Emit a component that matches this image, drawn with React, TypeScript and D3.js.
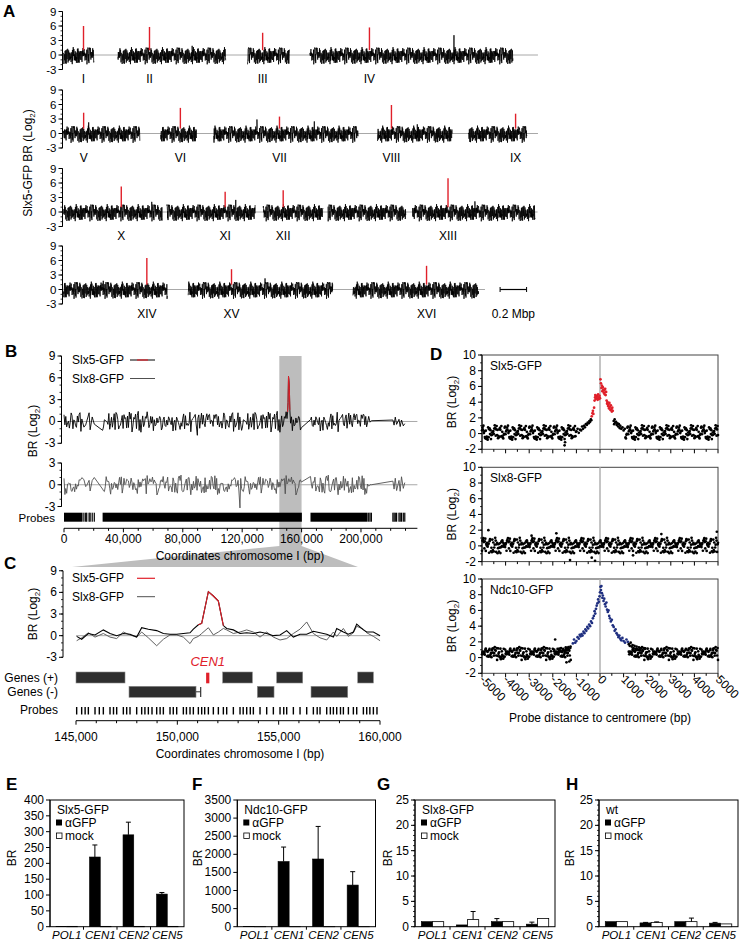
import React from 'react';
import * as d3 from 'd3';

const FONT = "'Liberation Sans', Arial, Helvetica, sans-serif";
const RED = '#e0202a';
const BLUE = '#1f2f80';
const ZERO_GRAY = '#a8a8a8';

// hand-typed log2 fluctuation table (background noise of the arrays)
const NOISE = [0.42,-0.61,0.15,0.88,-0.27,-1.12,0.53,0.07,-0.44,1.21,-0.83,0.31,-0.05,0.66,-1.35,0.24,0.97,-0.38,-0.71,0.12,0.58,-0.94,1.05,-0.19,0.36,-0.52,0.81,-1.02,0.03,0.47,-0.66,1.33,-0.28,-0.87,0.69,0.18,-1.18,0.55,-0.09,0.92,-0.47,0.26,-0.75,1.12,-0.33,0.61,-1.41,0.09,0.77,-0.58,0.34,-0.21,1.02,-0.96,0.45,-0.13,0.73,-1.07,0.21,0.86,-0.42,-0.68,1.18,0.05,-0.89,0.52,-0.31,0.98,-0.56,0.14,-1.25,0.63,0.29,-0.77,1.09,-0.17,0.41,-0.99,0.72,-0.36,0.17,1.27,-0.62,-0.08,0.84,-1.15,0.38,-0.48,0.95,-0.26,0.57,-0.81,0.11,1.15,-0.69,0.27,-0.39,0.79,-1.3,0.49,-0.11,0.67,-0.92,0.33,1.01,-0.54,-0.23,0.89,-0.74,0.19,-1.04,0.61,0.37,-0.45,0.83,-0.15,-1.21,0.51,0.02,0.94,-0.63,0.23,-0.86,1.14,-0.29,0.44,-0.57,0.71,-1.09,0.16,0.99,-0.41,-0.79,0.59,0.08,-0.97,0.46,1.24,-0.35,-0.64,0.76,-0.18,0.31,-1.16,0.87,-0.49,0.13,1.06,-0.72,0.39,-0.25,0.65,-1.38,0.22,0.91,-0.53];

// ---------- Panel A : genome-wide Slx5-GFP ChIP-chip
const CHROMS = ['I','II','III','IV','V','VI','VII','VIII','IX','X','XI','XII','XIII','XIV','XV','XVI'];
const CHROM_LEN_KB = [230,813,317,1532,577,270,1091,563,440,746,667,1078,924,784,1091,948];
const CEN_KB = [151,238,114,449,152,148,497,105,355,436,440,151,268,629,327,556];
const CEN_PEAK = [6.0,5.8,4.6,5.7,4.3,5.3,3.5,5.9,4.1,5.3,4.2,4.5,7.0,6.5,4.2,4.9];
const CHROM_ROW = [0,0,0,0,1,1,1,1,1,2,2,2,2,3,3,3];
const CHROM_START_KB = [0,411,1389,1860,0,734,1133,2370,3057,0,780,1507,2634,0,941,2184];
const ROW_END_KB = [3581,3581,3578,3181];
const A_OTHER_PEAKS = [[3,1087,4.1],[1,560,1.9],[4,190,2.3],[6,327,2.9],[6,760,2.5],[7,300,1.9],[9,666,2.1],[10,520,2.5],[12,471,2.2],[14,580,2.3],[13,300,1.8]];
const A_TICKS = [-3,0,3,6,9];
const SCALE_BAR_KB = [3295, 3495];

// ---------- Panel B : chromosome I
const B_DENSE_KB = [[0,12.5],[26,160.2],[166,204.5]];
const B_SPARSE_KB = [13.4,14.6,15.3,16.9,17.6,19.0,20.4,205.2,206.1,207.0,221.5,222.3,223.1,224.0,225.6,226.4,227.3,228.5,229.5];
const B_SLX5_PEAK = [[150.6,1.3],[150.9,2.6],[151.2,6.2],[151.5,5.6],[151.8,4.4],[152.1,1.6]];
const B_SLX5_FIXED = [[89.8,-1.9],[205.2,0.7],[206.1,-0.1],[207,0.1],[221.5,0.2],[222.3,-0.5],[223.1,0.6],[224.0,-0.4],[225.6,0.3],[226.4,-0.7],[227.3,0.2],[228.5,-0.6],[229.5,-0.3]];
const B_SLX8_FIXED = [[20.4,1.0],[26,-0.6],[118.5,-3.2],[205.2,-0.2],[206.1,0.0],[207,0.0],[221.5,0.5],[222.3,-0.6],[223.1,0.9],[224.0,-0.8],[225.6,0.6],[226.4,-0.9],[227.3,1.1],[228.5,-0.5],[229.5,0.3]];
const B_X_TICKS = [0,40000,80000,120000,160000,200000];

// ---------- Panel C : CEN1 region
const C_POS = [145033,145280,145609,145938,146349,146678,147007,147336,147665,147994,148241,148570,148981,149310,149639,149968,150297,150626,150790,151037,151202,151531,151777,152024,152271,152435,152764,153093,153422,153751,154080,154409,154738,155067,155396,155725,156054,156383,156712,157041,157370,157699,157864,158193,158440,158686,158851,159180,159344,159673,160003];
const C_SLX5 = [-0.1,-0.5,0.3,0.1,0.8,0.3,0.0,0.3,0.2,-0.2,1.1,0.9,0.7,0.3,0.2,0.2,0.3,0.4,0.9,1.5,1.7,6.1,5.5,4.8,1.4,1.0,0.8,0.3,0.4,0.3,0.5,0.3,0.0,0.1,0.7,-0.2,0.2,0.2,0.6,0.4,0.2,-0.2,1.0,0.5,0.2,0.5,1.6,0.8,0.5,0.5,0.0];
const C_SLX8 = [-0.7,-0.3,0.4,-0.2,0.3,-0.2,-0.4,0.5,0.1,-0.2,0.5,-0.3,-1.4,-0.5,0.1,0.1,-0.2,-1.1,-0.4,-0.1,0.3,1.1,0.1,0.5,1.0,0.8,0.3,0.5,0.8,0.5,-0.2,0.5,-0.2,-0.6,-0.4,0.3,0.9,1.9,0.3,-0.3,-0.6,0.5,-0.1,1.0,-0.1,0.4,1.3,0.9,0.4,-0.1,-0.7];
const C_PROBE_EXTRA = [145450,146150,146850,147500,148400,148750,149150,149800,150450,151350,153250,153600,155250,156900,157550,158050,159500,159850];
const C_GENES_PLUS = [[145000,147418],[152238,153702],[154903,156186],[158900,159673]];
const C_GENES_MINUS = [[147616,150922],[153949,154771],[156597,158407]];
const C_SMALL_FEATURE = [150922,151152];
const C_CEN1 = [151420,151580];
const C_X_TICKS = [145000,150000,155000,160000];

// ---------- Panel D : probe distance to centromere
const D_SLX5_RED_X = [-350,-320,-300,-280,-250,-230,-210,-200,-180,-160,-140,-120,-100,-80,-60,-40,-20,0,20,40,60,80,100,120,140,160,180,200,220,240,260,280,300,320,340,360,380,400,420,440,460,480,500,520,540];
const D_SLX5_RED_Y = [2.2,2.6,2.9,2.5,3.3,4.2,4.6,4.9,4.4,4.7,4.5,4.8,4.3,5.0,4.6,4.4,4.8,4.5,6.9,6.4,5.8,6.1,5.4,5.9,5.6,5.2,5.5,5.0,5.7,4.9,5.3,4.2,3.8,4.0,3.5,3.7,3.2,3.9,3.4,3.0,3.6,3.1,2.8,3.3,2.9];
const D_SLX5_BLACK_X = [-1500,-1480,-1000,-950,-900,-850,-800,-760,-720,-680,-640,-600,-560,-520,-480,-450,-420,-390,-370,580,600,620,650,680,710,740,770,800,830,860,900,950,1000,1050];
const D_SLX5_BLACK_Y = [-1.5,-1.1,0.3,0.6,0.1,0.5,0.4,0.9,0.6,1.0,0.8,1.2,1.1,1.4,1.3,1.6,1.5,1.8,1.7,1.6,1.2,1.8,1.4,1.5,1.1,1.3,0.9,1.2,0.7,1.0,0.6,0.8,0.4,0.6];
const D_SLX8_OUT_X = [-4730,-2900,-1850,-1270,-350,-210,1400,2600,4950];
const D_SLX8_OUT_Y = [2.0,1.3,1.6,-1.8,-1.5,-1.9,-1.2,1.5,1.8];
const D_NDC_BLUE_X = [-1150,-1100,-1050,-1000,-950,-900,-860,-820,-780,-740,-700,-660,-620,-580,-540,-500,-460,-420,-380,-340,-300,-260,-230,-200,-170,-140,-110,-80,-50,-20,0,20,40,60,80,100,120,150,180,210,240,270,300,330,360,390,420,460,500,540,580,620,660,700,740,780,820,860,900,950,1000,1060,1120,1180];
const D_NDC_BLUE_Y = [1.8,2.3,1.9,2.1,2.6,2.4,2.9,2.7,3.0,2.8,3.3,3.1,3.6,3.4,3.9,3.7,4.2,4.0,4.6,4.4,5.0,5.3,5.9,5.6,6.2,6.6,6.9,7.4,7.1,7.8,8.3,9.0,8.6,9.1,8.2,7.6,7.9,7.2,7.5,6.8,6.5,7.0,6.1,5.8,6.0,5.3,5.0,4.6,4.8,4.1,3.9,3.4,3.6,3.1,2.9,2.6,2.8,2.4,2.2,2.5,2.1,1.9,2.3,2.0];
const D_NDC_BLACK_X = [-1950,-1900,-1800,-1750,-1700,-1650,-1600,-1550,-1500,-1450,-1420,-1400,-1350,-1300,-1250,1220,1260,1300,1340,1380,1420,1460,1500,1550,1600,1650,1700,1750,1800,1900,2000];
const D_NDC_BLACK_Y = [0.8,2.3,1.1,0.6,0.9,1.2,0.7,1.0,0.8,1.3,-0.6,0.9,1.1,-0.5,1.4,1.7,1.5,1.9,1.4,1.6,1.2,1.5,1.1,1.4,1.0,1.3,0.9,1.2,0.8,1.1,0.7];
const D_X_TICKS = [-5000,-4000,-3000,-2000,-1000,0,1000,2000,3000,4000,5000];
const D_TITLES = ['Slx5-GFP','Slx8-GFP','Ndc10-GFP'];

// ---------- Panels E-H : ChIP-qPCR
const QPCR_CATS = ['POL1','CEN1','CEN2','CEN5'];
const E_GFP = [1,220,290,103]; const E_GFP_ERR = [0,38,40,5];
const E_MOCK = [1,1,1,1]; const E_MOCK_ERR = [0,0,0,0];
const F_GFP = [1,1800,1870,1150]; const F_GFP_ERR = [0,400,900,370];
const F_MOCK = [1,1,1,1]; const F_MOCK_ERR = [0,0,0,0];
const G_GFP = [1.0,0.35,1.0,0.5]; const G_GFP_ERR = [0,0,0.6,0.4];
const G_MOCK = [1.0,1.4,1.0,1.6]; const G_MOCK_ERR = [0,1.6,0,0];
const H_GFP = [1.0,0.75,1.0,0.7]; const H_GFP_ERR = [0,0.1,0,0.15];
const H_MOCK = [1.0,0.85,1.0,0.55]; const H_MOCK_ERR = [0,0.1,0.7,0];

const N = NOISE.length;

function LogLabel({ x, y, text }) {
  return (
    <text transform={`translate(${x},${y}) rotate(-90)`} y={4} textAnchor="middle" fontSize={12} fontFamily={FONT}>
      {text}(Log<tspan fontSize={8} dy={3}>2</tspan><tspan dy={-3}>)</tspan>
    </text>
  );
}

function Letter({ x, y, t }) {
  return <text x={x} y={y} fontSize={17} fontWeight="bold" fontFamily={FONT}>{t}</text>;
}

function YAxis({ x, scale, major, minorStep, fontSize = 12, fmt = (v) => String(v) }) {
  const [d0, d1] = scale.domain();
  const minors = minorStep ? d3.range(d0, d1 + 1e-9, minorStep) : [];
  return (
    <g>
      <line x1={x} x2={x} y1={scale(d0)} y2={scale(d1)} stroke="#000" strokeWidth={1} />
      {minors.map((v, i) => <line key={'m' + i} x1={x - 2} x2={x} y1={scale(v)} y2={scale(v)} stroke="#000" strokeWidth={0.8} />)}
      {major.map((v, i) => (
        <g key={'M' + i}>
          <line x1={x - 4} x2={x} y1={scale(v)} y2={scale(v)} stroke="#000" strokeWidth={1} />
          <text x={x - 6} y={scale(v) + 4} textAnchor="end" fontSize={fontSize} fontFamily={FONT}>{fmt(v)}</text>
        </g>
      ))}
    </g>
  );
}

function PanelA() {
  const xA = d3.scaleLinear().domain([0, 3600]).range([63.5, 63.5 + 3600 * 0.1325]);
  const ROW_BASE = [55, 133.5, 212, 289.5];
  const ys = ROW_BASE.map((b) => d3.scaleLinear().domain([-3, 9]).range([b + 14.5, b - 43.5]));
  const STEP = 1.5;
  return (
    <g>
      <Letter x={3} y={17} t="A" />
      <LogLabel x={28} y={163} text="Slx5-GFP BR " />
      {ys.map((y, r) => (
        <g key={r}>
          <line x1={xA(0)} x2={xA(ROW_END_KB[r])} y1={y(0)} y2={y(0)} stroke={ZERO_GRAY} strokeWidth={1} />
          <YAxis x={62.5} scale={y} major={A_TICKS} minorStep={1} fontSize={11.5} />
        </g>
      ))}
      {CHROMS.map((name, c) => {
        const y = ys[CHROM_ROW[c]];
        const start = CHROM_START_KB[c];
        const pts = [];
        for (let j = 0; j * STEP <= CHROM_LEN_KB[c]; j++) {
          const kb = j * STEP;
          const gap = c === 11 && kb > 452 && kb < 488;
          pts.push([kb, 1.3 * NOISE[(j * 7 + c * 23) % N] - 0.1, !gap]);
        }
        A_OTHER_PEAKS.filter((p) => p[0] === c).forEach((p) => pts.push([p[1], p[2], true]));
        pts.sort((a, b) => a[0] - b[0]);
        const line = d3.line().defined((d) => d[2]).x((d) => xA(start + d[0])).y((d) => y(d[1]));
        const cx = xA(start + CEN_KB[c]);
        return (
          <g key={name}>
            <path d={line(pts)} fill="none" stroke="#000" strokeWidth={0.8} />
            <line x1={cx} x2={cx} y1={y(1.0)} y2={y(CEN_PEAK[c])} stroke={RED} strokeWidth={1.4} />
            <text x={cx} y={ROW_BASE[CHROM_ROW[c]] + 28} textAnchor="middle" fontSize={12} fontFamily={FONT}>{name}</text>
          </g>
        );
      })}
      <g>
        <line x1={xA(SCALE_BAR_KB[0])} x2={xA(SCALE_BAR_KB[1])} y1={ys[3](0)} y2={ys[3](0)} stroke="#000" strokeWidth={1.2} />
        <line x1={xA(SCALE_BAR_KB[0])} x2={xA(SCALE_BAR_KB[0])} y1={ys[3](0) - 2.5} y2={ys[3](0) + 2.5} stroke="#000" />
        <line x1={xA(SCALE_BAR_KB[1])} x2={xA(SCALE_BAR_KB[1])} y1={ys[3](0) - 2.5} y2={ys[3](0) + 2.5} stroke="#000" />
        <text x={(xA(SCALE_BAR_KB[0]) + xA(SCALE_BAR_KB[1])) / 2} y={ROW_BASE[3] + 28} textAnchor="middle" fontSize={12} fontFamily={FONT}>0.2 Mbp</text>
      </g>
    </g>
  );
}

function buildBTrace(probes, offset, mult, fixed, exclude) {
  const near = (p) => fixed.some((f) => Math.abs(f[0] - p) < 0.3);
  const pts = probes
    .map((p, i) => [p, mult * NOISE[(i * offset + 3) % N]])
    .filter((d) => !near(d[0]) && !(exclude && d[0] >= exclude[0] && d[0] <= exclude[1]));
  return pts.concat(fixed).sort((a, b) => a[0] - b[0]);
}

function PanelBC() {
  const xB = d3.scaleLinear().domain([0, 238000]).range([64, 417.4]);
  const yB1 = d3.scaleLinear().domain([-3, 9]).range([443.3, 356]);
  const yB2 = d3.scaleLinear().domain([-3, 3]).range([506.5, 463]);
  const probes = [];
  B_DENSE_KB.forEach(([a, b]) => { for (let p = a; p <= b + 1e-6; p += 0.6) probes.push(+p.toFixed(2)); });
  B_SPARSE_KB.forEach((p) => probes.push(p));
  probes.sort((a, b) => a - b);
  const top = buildBTrace(probes, 5, 1.05, B_SLX5_FIXED.concat(B_SLX5_PEAK), [150.3, 152.4]);
  const low = buildBTrace(probes, 11, 1.0, B_SLX8_FIXED, [20.5, 25.9]);
  const redPts = top.filter((d) => d[0] >= 150.55 && d[0] <= 152.15);
  const lineB1 = d3.line().x((d) => xB(d[0] * 1000)).y((d) => yB1(d[1]));
  const lineB2 = d3.line().x((d) => xB(d[0] * 1000)).y((d) => yB2(d[1]));

  const xC = d3.scaleLinear().domain([145000, 160000]).range([76, 380]);
  const yC = d3.scaleLinear().domain([-3, 9]).range([657.3, 570.75]);
  const cPts5 = C_POS.map((p, i) => [p, C_SLX5[i]]);
  const cPts8 = C_POS.map((p, i) => [p, C_SLX8[i]]);
  const lineC = d3.line().x((d) => xC(d[0])).y((d) => yC(d[1]));
  const cProbes = C_POS.concat(C_PROBE_EXTRA).filter((p) => p >= 145000 && p <= 160000);

  return (
    <g fontFamily={FONT}>
      <rect x={xB(145000)} y={356} width={xB(160000) - xB(145000)} height={546 - 356} fill="#bdbdbd" />
      <polygon points={`${xB(145000)},546 ${xB(160000)},546 358,567 72,567`} fill="#bdbdbd" />

      <Letter x={5} y={357} t="B" />
      <LogLabel x={33} y={431} text="BR " />
      <line x1={64} x2={417.4} y1={yB1(0)} y2={yB1(0)} stroke={ZERO_GRAY} />
      <line x1={64} x2={417.4} y1={yB2(0)} y2={yB2(0)} stroke={ZERO_GRAY} />
      <YAxis x={61.5} scale={yB1} major={[-3, 0, 3, 6, 9]} minorStep={1} />
      <YAxis x={61.5} scale={yB2} major={[-3, 0, 3]} minorStep={1} />
      <path d={lineB1(top)} fill="none" stroke="#000" strokeWidth={0.9} />
      <path d={lineB1(redPts)} fill="none" stroke={RED} strokeWidth={1} />
      <path d={lineB2(low)} fill="none" stroke="#505050" strokeWidth={0.9} />
      <text x={72} y={364} fontSize={12}>Slx5-GFP</text>
      <line x1={130} x2={155} y1={360} y2={360} stroke="#000" />
      <line x1={137} x2={148} y1={360} y2={360} stroke={RED} strokeWidth={1.2} />
      <text x={72} y={382.5} fontSize={12}>Slx8-GFP</text>
      <line x1={130} x2={155} y1={378.5} y2={378.5} stroke="#505050" />
      <text x={55} y={522} textAnchor="end" fontSize={11.5}>Probes</text>
      {B_DENSE_KB.map(([a, b], i) => (
        <rect key={i} x={xB(a * 1000)} y={512.7} width={xB(b * 1000) - xB(a * 1000)} height={9} fill="#000" />
      ))}
      {B_SPARSE_KB.map((p, i) => (
        <rect key={'s' + i} x={xB(p * 1000) - 0.6} y={512.7} width={1.2} height={9} fill="#000" />
      ))}
      <line x1={64} x2={417.4} y1={528.3} y2={528.3} stroke="#000" />
      {d3.range(0, 230001, 10000).map((v) => (
        <line key={v} x1={xB(v)} x2={xB(v)} y1={528.3} y2={528.3 + (v % 40000 === 0 ? 4 : 2.5)} stroke="#000" />
      ))}
      {B_X_TICKS.map((v) => (
        <text key={v} x={xB(v)} y={543} textAnchor="middle" fontSize={12}>{d3.format(',')(v)}</text>
      ))}
      <text x={240} y={560} textAnchor="middle" fontSize={12}>Coordinates chromosome I (bp)</text>

      <Letter x={4} y={569} t="C" />
      <LogLabel x={33} y={614} text="BR " />
      <line x1={76} x2={380} y1={yC(0)} y2={yC(0)} stroke={ZERO_GRAY} />
      <YAxis x={63} scale={yC} major={[-3, 0, 3, 6, 9]} minorStep={1} />
      <path d={lineC(cPts8)} fill="none" stroke="#606060" strokeWidth={1} />
      <path d={lineC(cPts5)} fill="none" stroke="#000" strokeWidth={1.1} />
      <path d={lineC(cPts5.slice(19, 25))} fill="none" stroke={RED} strokeWidth={1.1} />
      <text x={72} y={582} fontSize={12}>Slx5-GFP</text>
      <line x1={137} x2={155} y1={578.3} y2={578.3} stroke={RED} strokeWidth={1.2} />
      <text x={72} y={600.5} fontSize={12}>Slx8-GFP</text>
      <line x1={137} x2={155} y1={596.7} y2={596.7} stroke="#505050" />
      <text x={xC(C_CEN1[0] + 80)} y={666} textAnchor="middle" fontSize={13} fontStyle="italic" fill={RED}>CEN1</text>
      <text x={58} y={681.5} textAnchor="end" fontSize={12}>Genes (+)</text>
      <text x={58} y={696} textAnchor="end" fontSize={12}>Genes (-)</text>
      {C_GENES_PLUS.map(([a, b], i) => (
        <rect key={'p' + i} x={xC(a)} y={672} width={xC(b) - xC(a)} height={11} fill="#2e2e2e" stroke="#8a8a8a" strokeWidth={0.6} />
      ))}
      {C_GENES_MINUS.map(([a, b], i) => (
        <rect key={'m' + i} x={xC(a)} y={686.3} width={xC(b) - xC(a)} height={11} fill="#2e2e2e" stroke="#8a8a8a" strokeWidth={0.6} />
      ))}
      <line x1={xC(C_SMALL_FEATURE[0])} x2={xC(C_SMALL_FEATURE[1])} y1={691.8} y2={691.8} stroke="#333" />
      <line x1={xC(C_SMALL_FEATURE[1])} x2={xC(C_SMALL_FEATURE[1])} y1={687} y2={697} stroke="#333" strokeWidth={1.2} />
      <rect x={xC(C_CEN1[0])} y={672.7} width={xC(C_CEN1[1]) - xC(C_CEN1[0])} height={10.6} fill={RED} />
      <text x={58} y={714} textAnchor="end" fontSize={12}>Probes</text>
      {cProbes.map((p, i) => (
        <rect key={i} x={xC(p) - 0.7} y={707} width={1.4} height={7.5} fill="#000" />
      ))}
      <line x1={76} x2={380} y1={720.7} y2={720.7} stroke="#000" />
      {d3.range(145000, 160001, 1000).map((v) => (
        <line key={v} x1={xC(v)} x2={xC(v)} y1={720.7} y2={720.7 + (v % 5000 === 0 ? 4 : 2.5)} stroke="#000" />
      ))}
      {C_X_TICKS.map((v) => (
        <text key={v} x={xC(v)} y={741} textAnchor="middle" fontSize={12}>{d3.format(',')(v)}</text>
      ))}
      <text x={240} y={758} textAnchor="middle" fontSize={12}>Coordinates chromosome I (bp)</text>
    </g>
  );
}

function PanelD() {
  const xD = d3.scaleLinear().domain([-5000, 5000]).range([482, 718]);
  const TOPS = [355, 467.3, 579];
  const ys = TOPS.map((t) => d3.scaleLinear().domain([-2, 10]).range([t + 94.3, t]));
  const bgX = d3.range(-5000, 5001, 20);
  const bg = (k, lo, hi, spread, base) =>
    bgX.map((x, i) => [x, base + spread * NOISE[(i * 3 + k * 53) % N]]).filter((p) => p[0] < lo || p[0] > hi);
  const plots = [
    { black: bg(0, -1010, 1060, 0.75, 0.1).concat(D_SLX5_BLACK_X.map((x, i) => [x, D_SLX5_BLACK_Y[i]])), col: D_SLX5_RED_X.map((x, i) => [x, D_SLX5_RED_Y[i]]), color: RED },
    { black: bg(1, 99999, 99999, 0.75, 0.1).concat(D_SLX8_OUT_X.map((x, i) => [x, D_SLX8_OUT_Y[i]])), col: [], color: '#000' },
    { black: bg(2, -1220, 1210, 0.6, 0.55).concat(D_NDC_BLACK_X.map((x, i) => [x, D_NDC_BLACK_Y[i]])), col: D_NDC_BLUE_X.map((x, i) => [x, D_NDC_BLUE_Y[i]]), color: BLUE },
  ];
  return (
    <g fontFamily={FONT}>
      <Letter x={430} y={360} t="D" />
      {plots.map((pl, k) => {
        const y = ys[k];
        const t = TOPS[k];
        const b = t + 94.3;
        return (
          <g key={k}>
            <LogLabel x={452} y={t + 47} text="BR " />
            <rect x={482} y={t} width={236} height={94.3} fill="none" stroke="#444" strokeWidth={1} />
            <line x1={xD(0)} x2={xD(0)} y1={t} y2={b} stroke="#b0b0b0" strokeWidth={1.5} />
            <YAxis x={482} scale={y} major={[-2, 0, 2, 4, 6, 8, 10]} minorStep={1} />
            {d3.range(-5000, 5001, 500).map((v) => (
              <line key={v} x1={xD(v)} x2={xD(v)} y1={b} y2={b + (v % 1000 === 0 ? 4 : 2.5)} stroke="#000" />
            ))}
            {pl.black.map((p, i) => <circle key={'b' + i} cx={xD(p[0])} cy={y(p[1])} r={1.35} fill="#000" />)}
            {pl.col.map((p, i) => <circle key={'c' + i} cx={xD(p[0])} cy={y(p[1])} r={1.35} fill={pl.color} />)}
            <text x={490} y={t + 15} fontSize={12}>{D_TITLES[k]}</text>
          </g>
        );
      })}
      {D_X_TICKS.map((v) => (
        <text key={v} transform={`translate(${xD(v) - 3},${TOPS[2] + 94.3 + 7}) rotate(45)`} fontSize={12}>{v}</text>
      ))}
      <text x={600} y={722} textAnchor="middle" fontSize={12}>Probe distance to centromere (bp)</text>
    </g>
  );
}

function BarPanel({ letter, letterX, brX, x0, x1, max, step, minor, title, gfp, gfpErr, mock, mockErr }) {
  const top = 800, bottom = 926.7;
  const y = d3.scaleLinear().domain([0, max]).range([bottom, top]);
  const xb = d3.scaleBand().domain(QPCR_CATS).range([x0, x1]);
  const bw = xb.bandwidth() * 0.32;
  const ticks = d3.range(0, max + 1e-9, step);
  return (
    <g fontFamily={FONT}>
      <Letter x={letterX} y={790} t={letter} />
      <text transform={`translate(${brX},858) rotate(-90)`} y={4} textAnchor="middle" fontSize={12}>BR</text>
      <rect x={x0} y={top} width={x1 - x0} height={bottom - top} fill="none" stroke="#000" />
      <YAxis x={x0} scale={y} major={ticks} minorStep={minor} />
      {QPCR_CATS.slice(1).map((c) => (
        <line key={c} x1={xb(c)} x2={xb(c)} y1={bottom} y2={bottom + 3} stroke="#000" />
      ))}
      {QPCR_CATS.map((c, i) => {
        const cx = xb(c) + xb.bandwidth() / 2;
        return (
          <g key={c}>
            <rect x={cx - bw} y={y(gfp[i])} width={bw} height={bottom - y(gfp[i])} fill="#000" stroke="#000" strokeWidth={0.6} />
            <rect x={cx} y={y(mock[i])} width={bw} height={bottom - y(mock[i])} fill="#fff" stroke="#000" strokeWidth={0.8} />
            {gfpErr[i] > 0 && (
              <g>
                <line x1={cx - bw / 2} x2={cx - bw / 2} y1={y(gfp[i])} y2={y(gfp[i] + gfpErr[i])} stroke="#000" />
                <line x1={cx - bw / 2 - 2.5} x2={cx - bw / 2 + 2.5} y1={y(gfp[i] + gfpErr[i])} y2={y(gfp[i] + gfpErr[i])} stroke="#000" />
              </g>
            )}
            {mockErr[i] > 0 && (
              <g>
                <line x1={cx + bw / 2} x2={cx + bw / 2} y1={y(mock[i])} y2={y(mock[i] + mockErr[i])} stroke="#000" />
                <line x1={cx + bw / 2 - 2.5} x2={cx + bw / 2 + 2.5} y1={y(mock[i] + mockErr[i])} y2={y(mock[i] + mockErr[i])} stroke="#000" />
              </g>
            )}
            <text x={cx} y={939} textAnchor="middle" fontSize={11.5} fontStyle="italic">{c}</text>
          </g>
        );
      })}
      <text x={x0 + 7} y={top + 14} fontSize={12}>{title}</text>
      <rect x={x0 + 6} y={top + 19.5} width={6} height={6} fill="#000" />
      <text x={x0 + 15} y={top + 27} fontSize={12}>αGFP</text>
      <rect x={x0 + 6.5} y={top + 33} width={5.5} height={5.5} fill="#fff" stroke="#000" strokeWidth={0.8} />
      <text x={x0 + 15} y={top + 40} fontSize={12}>mock</text>
    </g>
  );
}

export default function App() {
  return (
    <svg width={742} height={943} viewBox="0 0 742 943" style={{ position: 'absolute', left: 0, top: 0, background: '#fff' }}>
      <rect x={0} y={0} width={742} height={943} fill="#fff" />
      <PanelA />
      <PanelBC />
      <PanelD />
      <BarPanel letter="E" letterX={6} brX={12} x0={50} x1={184} max={400} step={50} minor={0} title="Slx5-GFP" gfp={E_GFP} gfpErr={E_GFP_ERR} mock={E_MOCK} mockErr={E_MOCK_ERR} />
      <BarPanel letter="F" letterX={192} brX={198} x0={237.3} x1={375.5} max={3500} step={500} minor={0} title="Ndc10-GFP" gfp={F_GFP} gfpErr={F_GFP_ERR} mock={F_MOCK} mockErr={F_MOCK_ERR} />
      <BarPanel letter="G" letterX={377} brX={388} x0={415} x1={555} max={25} step={5} minor={1} title="Slx8-GFP" gfp={G_GFP} gfpErr={G_GFP_ERR} mock={G_MOCK} mockErr={G_MOCK_ERR} />
      <BarPanel letter="H" letterX={566} brX={570} x0={599} x1={738} max={25} step={5} minor={1} title="wt" gfp={H_GFP} gfpErr={H_GFP_ERR} mock={H_MOCK} mockErr={H_MOCK_ERR} />
    </svg>
  );
}
